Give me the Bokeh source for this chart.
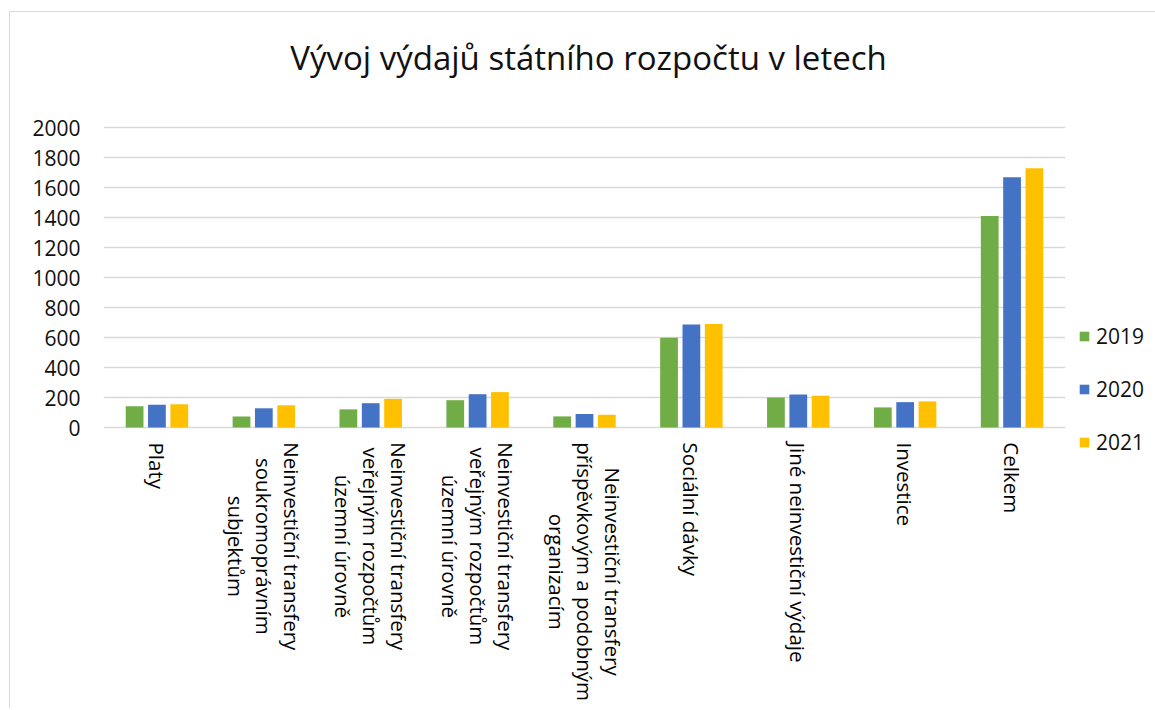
import math, glob
from bokeh.plotting import figure
from bokeh.models import ColumnDataSource, FixedTicker, Range1d, Legend, LegendItem
from bokeh.core.properties import value
from bokeh.transform import dodge
from bokeh.embed import file_html
from bokeh.resources import INLINE

title_text = "Vývoj výdajů státního rozpočtu v letech"
categories = [
    "Platy",
    "Neinvestiční transfery\nsoukromoprávním\nsubjektům",
    "Neinvestiční transfery\nveřejným rozpočtům\núzemní úrovně",
    "Neinvestiční transfery\nveřejným rozpočtům\núzemní úrovně",
    "Neinvestiční transfery\npříspěvkovým a podobným\norganizacím",
    "Sociální dávky",
    "Jiné neinvestiční výdaje",
    "Investice",
    "Celkem",
]
years = ["2019", "2020", "2021"]
v2019 = [142, 74, 121, 182, 74, 599, 200, 134, 1410]
v2020 = [151, 128, 162, 222, 90, 686, 220, 169, 1668]
v2021 = [155, 148, 191, 236, 85, 690, 212, 174, 1728]
y_ticks = [0, 200, 400, 600, 800, 1000, 1200, 1400, 1600, 1800, 2000]

colors = ["#70ad47", "#4472c4", "#ffc000"]
FONT = "Open Sans"
TXT = "#111111"

# ---- layout (page pixels) ----
OFF_X, OFF_Y = 10, 12               # canvas origin on the page (inside the chart border)
FRAME_LEFT, FRAME_W = 103, 962
FRAME_TOP, FRAME_BOTTOM = OFF_Y, 706
ZERO_PX, TOP_PX = 427, 127          # pixel rows of value 0 and value 2000
TITLE_PX = 57                       # pixel row of the title centre
px_per_unit = (ZERO_PX - TOP_PX) / 2000.0
y_end = 2000 + (TOP_PX - FRAME_TOP) / px_per_unit
y_start = -(FRAME_BOTTOM - ZERO_PX) / px_per_unit

CAT_FS = 20.5        # category label font size (px)
LINE_H = 28          # spacing between lines of a category label
LABEL_GAP = 15       # gap between zero line and start of labels

# text width measurement (for centring lines within a label block)
def make_measure():
    try:
        from PIL import ImageFont
        files = [f for f in glob.glob("/usr/share/fonts/**/*.ttf", recursive=True)
                 if "opensans" in f.lower().replace("-", "").replace("_", "").replace(" ", "")]
        files.sort(key=lambda f: (("regular" not in f.lower()) and ("[" not in f), len(f)))
        font = ImageFont.truetype(files[0], CAT_FS)
        return lambda s: font.getlength(s)
    except Exception:
        return lambda s: len(s) * CAT_FS * 0.53
measure = make_measure()

idx = list(range(len(categories)))
source = ColumnDataSource(data=dict(x=idx, y2019=v2019, y2020=v2020, y2021=v2021))

p = figure(frame_width=FRAME_W, frame_height=FRAME_BOTTOM - FRAME_TOP,
           output_backend="svg", toolbar_location=None,
           x_range=Range1d(-0.5, len(categories) - 0.5), y_range=Range1d(y_start, y_end),
           min_border_left=FRAME_LEFT - OFF_X, min_border_right=88,
           min_border_top=0, min_border_bottom=2)
p.styles = {"margin-left": "9px", "margin-top": "11px",
            "border-left": "1px solid #d9d9d9", "border-top": "1px solid #d9d9d9"}

# title, drawn as text above the value area
tsrc = ColumnDataSource(data=dict(x=[(len(categories) - 1) / 2.0], y=[2000], text=[title_text]))
p.text(x="x", y="y", text="text", source=tsrc, x_offset=4, y_offset=-(TOP_PX - TITLE_PX),
       text_align="center", text_baseline="middle",
       text_font=value(FONT), text_font_size="33px", text_color=TXT)

width = 0.166
offs = [-0.209, 0.0, 0.209]
renderers = []
for yr, col, off in zip(years, colors, offs):
    r = p.vbar(x=dodge("x", off), top="y" + yr, width=width, bottom=0, source=source,
               fill_color=col, line_color=None)
    renderers.append(r)

# category labels, rotated to read top-to-bottom, lines centred in each block
lx, ltxt, lxo, lyo = [], [], [], []
for i, cat in enumerate(categories):
    lines = cat.split("\n")
    n = len(lines)
    lmax = max(measure(s) for s in lines)
    for j, s in enumerate(lines):
        lx.append(i)
        ltxt.append(s)
        lxo.append(((n - 1) / 2.0 - j) * LINE_H)
        lyo.append(LABEL_GAP + lmax / 2.0)
lsrc = ColumnDataSource(data=dict(x=lx, y=[0] * len(lx), text=ltxt, xo=lxo, yo=lyo))
p.text(x="x", y="y", text="text", x_offset="xo", y_offset="yo", source=lsrc,
       angle=-math.pi / 2, text_align="center", text_baseline="middle",
       text_font=value(FONT), text_font_size=f"{CAT_FS}px", text_color="#000000")

legend = Legend(items=[LegendItem(label=yr, renderers=[r]) for yr, r in zip(years, renderers)],
                location=(13, FRAME_BOTTOM - 456), orientation="vertical")
legend.label_text_font = FONT
legend.label_text_font_size = "21px"
legend.label_text_color = TXT
legend.glyph_width = 12
legend.glyph_height = 12
legend.label_standoff = 6
legend.spacing = 25
legend.padding = 0
legend.margin = 0
legend.border_line_color = None
legend.background_fill_alpha = 0
p.add_layout(legend, "right")

p.xaxis.visible = False

p.yaxis.ticker = FixedTicker(ticks=y_ticks)
p.yaxis.axis_line_color = None
p.yaxis.major_tick_line_color = None
p.yaxis.minor_tick_line_color = None
p.yaxis.major_tick_out = 0
p.yaxis.major_tick_in = 0
p.yaxis.minor_tick_out = 0
p.yaxis.minor_tick_in = 0
p.yaxis.major_label_text_font = FONT
p.yaxis.major_label_text_font_size = "21px"
p.yaxis.major_label_text_color = TXT
p.yaxis.major_label_standoff = 23

p.xgrid.visible = False
p.ygrid.grid_line_color = "#d9d9d9"
p.ygrid.grid_line_width = 1.5
p.outline_line_color = None

open("out.html", "w").write(file_html(p, INLINE))
